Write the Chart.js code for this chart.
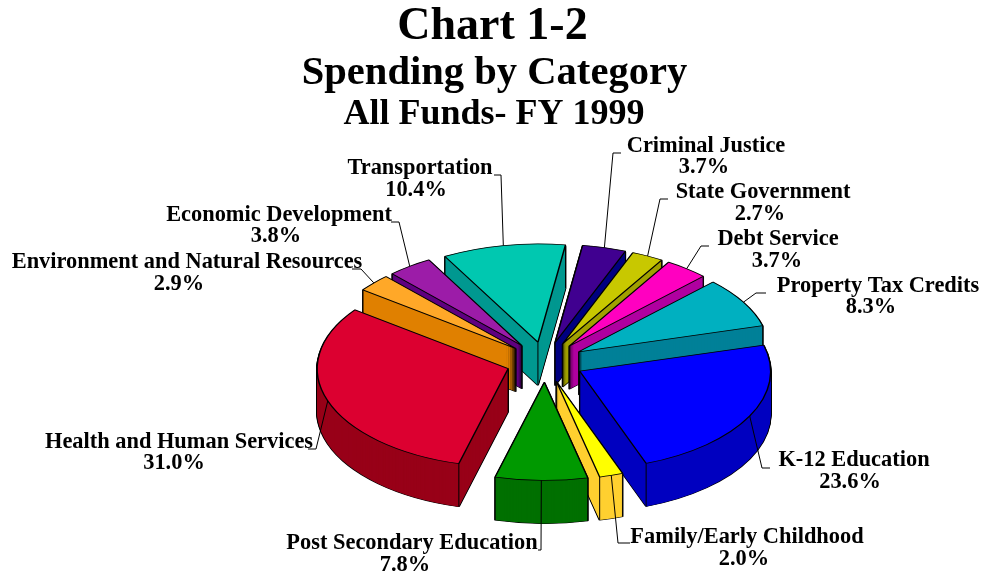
<!DOCTYPE html>
<html>
<head>
<meta charset="utf-8">
<style>html,body{margin:0;padding:0;background:#fff}canvas{display:block}</style>
<script src="https://cdn.jsdelivr.net/npm/chart.js@4"></script>
</head>
<body>
<canvas id="c" width="983" height="575"></canvas>
<script>
const categories = ["Criminal Justice","State Government","Debt Service","Property Tax Credits","K-12 Education","Family/Early Childhood","Post Secondary Education","Health and Human Services","Environment and Natural Resources","Economic Development","Transportation"];
const values = [3.7,2.7,3.7,8.3,23.6,2.0,7.8,31.0,2.9,3.8,10.4];
const topColors = ["#400090","#c8c800","#ff00c0","#00b0c0","#0000ff","#ffff00","#009900","#dc0030","#ffa828","#9c1ca8","#00c8b0"];
const wallColors = ["#000080","#a0a000","#b000a0","#008098","#0000c0","#ffd030","#007000","#980018","#e08000","#600080","#009890"];
const titleLines = [["Chart 1-2",492.5,39,46],["Spending by Category",494.5,84,40.6],["All Funds- FY 1999",494,124,36]];
// label layout: [name centre x, name baseline, value centre x, value baseline]
const labelPos = [[706,152,704,173],[763,198,760,220],[778,245,777,267],[878,292,871,313],[854,466,850,488],[747,543,744,565],[412,549,405,571],[179,448,174,469],[187,268,179,290],[279,221,276,242],[420,174,416,196]];
// leader elbows: [label end x, elbow x, y]
const leaderPos = [[621,613,153],[668,660,199],[709,701,246],[766,756,293],[770,762,468],[630,618,543],[538,541,550],[308,316,449],[352,361,269],[391,399,222],[494,501,175]];
const tilt = 0.515, depth = 43, explode = 39, pieRadius = 191, startDeg = 8.3;
const pieY = 362;

function squash(ctx, shift){
  ctx.translate(0, pieY + shift);
  ctx.scale(1, tilt);
  ctx.translate(0, -pieY);
}
const pie3d = {
  id:'pie3d',
  afterDatasetsUpdate(chart){
    chart.getDatasetMeta(0).data.forEach(a=>{
      const m=(a.startAngle+a.endAngle)/2;
      a.x+=explode*Math.cos(m);
      a.y+=explode*Math.sin(m);
    });
  },
  beforeDatasetsDraw(chart){
    const ctx=chart.ctx;
    const arcs=chart.getDatasetMeta(0).data.map((a,i)=>({a,i,s:Math.sin((a.startAngle+a.endAngle)/2)}));
    arcs.sort((p,q)=>p.s-q.s);
    arcs.forEach(({a,i})=>{
      const mk=(o)=>{const p=Object.create(a);p.options=Object.assign({},a.options,o);return p;};
      const edge=mk({backgroundColor:'#000',borderColor:'#000',borderWidth:2,borderAlign:'center'});
      const fill=mk({backgroundColor:wallColors[i],borderWidth:0});
      for(let t=depth;t>0;t-=1){ctx.save();squash(ctx,t);edge.draw(ctx);ctx.restore();}
      for(let t=depth;t>0;t-=1){ctx.save();squash(ctx,t);fill.draw(ctx);ctx.restore();}
      // vertical edges where a visible wall face meets another face
      const sy=y=>pieY+(y-pieY)*tilt;
      const cs=Math.cos(a.startAngle), ss=Math.sin(a.startAngle), ce=Math.cos(a.endAngle), se=Math.sin(a.endAngle);
      const pts=[];
      if(cs<0||ce>0) pts.push([a.x,a.y]);
      if(cs<0||ss>0) pts.push([a.x+a.outerRadius*cs,a.y+a.outerRadius*ss]);
      if(ce>0||se>0) pts.push([a.x+a.outerRadius*ce,a.y+a.outerRadius*se]);
      ctx.save();ctx.strokeStyle='#000';ctx.lineWidth=1;ctx.beginPath();
      pts.forEach(([x,y])=>{ctx.moveTo(x,sy(y));ctx.lineTo(x,sy(y)+depth);});
      ctx.stroke();ctx.restore();
    });
    ctx.save();
    squash(ctx,0);
  },
  afterDatasetsDraw(chart){
    const ctx=chart.ctx;
    ctx.restore();
    ctx.save();
    ctx.fillStyle='#000';ctx.strokeStyle='#000';ctx.lineWidth=1;ctx.textAlign='center';ctx.textBaseline='alphabetic';
    // leaders
    chart.getDatasetMeta(0).data.forEach((a,i)=>{
      const m=(a.startAngle+a.endAngle)/2;
      const rx=a.x+a.outerRadius*Math.cos(m);
      const ry=pieY+(a.y+a.outerRadius*Math.sin(m)-pieY)*tilt;
      const [lx,ex,y]=leaderPos[i];
      ctx.beginPath();ctx.moveTo(rx,ry);ctx.lineTo(ex,y);ctx.lineTo(lx,y);ctx.stroke();
    });
    // labels
    ctx.font='bold 22.4px "Liberation Serif"';
    categories.forEach((c,i)=>{
      const p=labelPos[i];
      ctx.fillText(c,p[0],p[1]);
      ctx.fillText(values[i].toFixed(1)+'%',p[2],p[3]);
    });
    titleLines.forEach(([t,x,y,s])=>{
      ctx.font='bold '+s+'px "Liberation Serif"';
      ctx.fillText(t,x,y);
    });
    ctx.restore();
  }
};
new Chart(document.getElementById('c'),{
  type:'pie',
  data:{labels:categories,datasets:[{data:values,backgroundColor:topColors,borderColor:'#000',borderWidth:1.5,borderAlign:'center',clip:false}]},
  options:{
    responsive:false,animation:false,events:[],
    rotation:startDeg,radius:pieRadius,
    layout:{padding:{left:107,top:149}},
    plugins:{legend:{display:false},tooltip:{enabled:false},title:{display:false}}
  },
  plugins:[pie3d]
});
</script>
</body>
</html>
